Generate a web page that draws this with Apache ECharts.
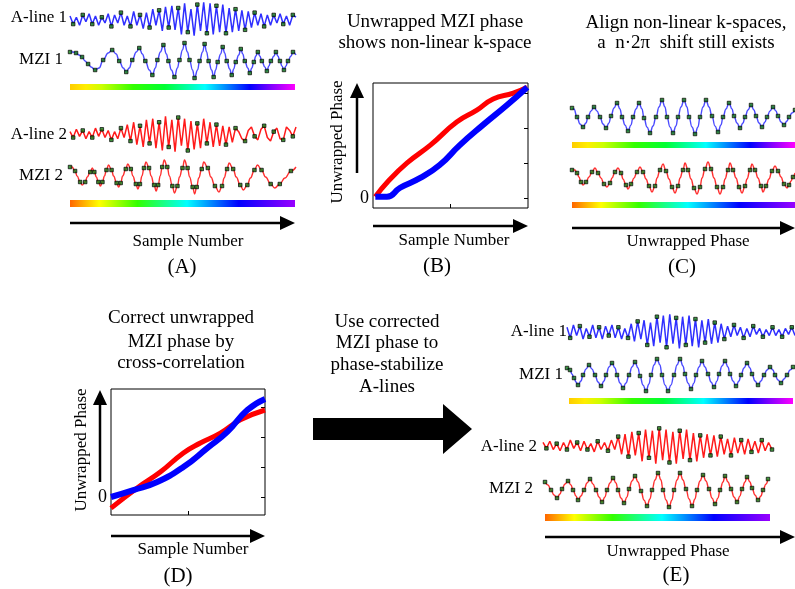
<!DOCTYPE html>
<html><head><meta charset="utf-8">
<script src="https://cdn.jsdelivr.net/npm/echarts@6/dist/echarts.min.js"></script>
<style>html,body{margin:0;padding:0;background:#fff}#c{width:795px;height:589px}</style>
</head><body><div id="c"></div>
<script>
// ---------- DATA ----------
// A-line samples (uniformly spaced sample index, amplitude)
const aline1A = [3,-4,2,-5,4,-2,5,-4,3,-5,2,-3,5,-6,4,-3,6,-5,3,-6,
  7,-5,4,-8,6,-7,9,-5,8,-10,11,-7,12,-9,10,-13,14,-11,9,-14,
  13,-10,15,-12,14,-13,12,-11,13,-12,10,-11,9,-10,8,-9,7,-7,6,-5,
  5,-6,4,-5,4,-3,5,-4,3,-5,4,2];
const aline2A = [2,-3,4,-2,3,-4,2,-3,5,-2,4,-3,3,-5,2,-4,5,-3,
  8,-6,10,-9,7,-11,12,-8,13,-12,10,-14,15,-11,12,-15,14,-10,13,-14,11,-13,9,-12,13,-8,10,-11,8,-10,7,-9,6,-7,
  5,2,-4,-6,3,6,-2,-5,4,7,-3,-6,2,5,-4,-5,6,3,-2,6];
const aline1E = [4,-5,6,-3,5,-6,3,-4,6,-5,4,-6,5,-3,6,-5,4,-6,3,-5,
  7,-8,9,-6,10,-11,8,-12,13,-9,14,-13,15,-10,12,-14,13,-11,14,-12,11,-13,10,-9,11,-10,8,-9,7,
  -6,5,-4,6,-3,4,-5,3,-4,5,-2,3,-4,2,-3,4,-3,2,-4,3,-2,4,-3];
const aline2E = [3,-2,4,-3,2,-4,3,-3,5,-2,3,-4,4,-3,2,-5,4,-3,3,-4,5,-3,
  8,-7,10,-9,12,-8,11,-13,14,-10,13,-15,15,-12,14,-14,12,-15,13,-11,14,-12,11,-13,
  9,-10,10,-8,9,-9,8,-7,6,-8,7,-6,5,-7,6,-5,4,-6,5,-4,3,-3];

// MZI samples [sample position, amplitude]
const mzi1A = [[0,10],[3,10],[6,9],[9,7],[12,5],[15,1],[18,-2],[21,-5],[25,-8],[29,-6],[33,2],[38,9],[42,12],[46,8],[49,1],[53,-6],[56,-10],[59,-6],[62,2],[66,10],[69,14],[72,8],[75,1],[79,-8],[82,-13],[85,-6],[87,2],[90,10],[93,17],[96,8],[98,1],[101,-8],[104,-15],[107,-6],[109,2],[112,12],[114,19],[117,10],[119,2],[122,-8],[124,-16],[127,-8],[129,1],[132,10],[134,18],[136,10],[138,1],[141,-8],[143,-15],[145,-8],[147,0],[150,8],[152,15],[154,9],[156,1],[159,-7],[161,-13],[163,-7],[165,0],[168,7],[170,13],[172,8],[174,1],[177,-6],[179,-11],[181,-6],[183,0],[185,6],[187,10],[189,6],[191,1],[194,-5],[196,-9],[198,-4],[200,1],[203,6],[205,10],[207,6],[209,1],[211,-4],[213,-8],[215,-4],[217,1],[220,6],[222,10],[225,7]];
const mzi2A = [[0,11],[2,11],[5,7],[7,2],[10,-4],[12,-7],[15,-4],[17,1],[20,6],[22,10],[24,6],[26,1],[28,-4],[30,-8],[32,-4],[34,2],[36,8],[38,13],[41,8],[43,2],[46,-5],[48,-9],[50,-5],[52,2],[55,9],[57,14],[60,9],[62,2],[65,-6],[67,-11],[69,-6],[71,2],[73,10],[75,16],[78,10],[80,2],[83,-7],[85,-13],[87,-7],[89,2],[91,11],[93,18],[96,11],[98,2],[101,-8],[103,-15],[106,-8],[108,1],[111,10],[113,18],[116,10],[118,1],[121,-9],[123,-16],[125,-9],[127,0],[130,9],[132,16],[136,10],[139,1],[143,-8],[147,-14],[150,-8],[152,0],[155,9],[157,15],[161,9],[164,1],[168,-7],[171,-12],[175,-7],[178,0],[182,8],[185,13],[189,8],[193,1],[198,-6],[202,-10],[207,-6],[212,0],[218,7],[223,11]];
const mzi1C = [[0,9],[2,8],[5,0],[8,-7],[11,-10],[14,-6],[16,0],[19,6],[22,10],[25,6],[28,0],[31,-7],[34,-11],[37,-6],[39,1],[42,9],[45,14],[48,8],[50,0],[53,-8],[56,-14],[59,-8],[61,0],[64,8],[67,14],[70,8],[72,-1],[75,-10],[78,-16],[81,-9],[84,0],[87,10],[90,17],[93,10],[95,0],[98,-10],[101,-16],[104,-9],[106,0],[109,10],[112,17],[115,10],[117,0],[120,-10],[123,-17],[126,-10],[128,0],[131,10],[134,17],[137,10],[140,1],[143,-9],[146,-15],[149,-8],[151,0],[154,8],[157,14],[160,8],[162,1],[165,-6],[168,-11],[171,-6],[173,0],[176,7],[179,12],[182,7],[184,1],[187,-6],[190,-10],[193,-5],[195,0],[198,6],[201,10],[204,6],[206,1],[209,-5],[212,-8],[215,-4],[217,0],[220,4],[223,7]];
const mzi2C = [[0,9],[3,9],[5,6],[7,2],[9,-3],[11,-6],[14,-3],[17,2],[20,7],[23,11],[26,6],[29,1],[32,-5],[35,-8],[38,-4],[40,1],[43,7],[46,11],[49,6],[51,0],[54,-6],[56,-10],[59,-5],[62,1],[65,7],[68,12],[71,7],[74,0],[77,-7],[80,-13],[83,-7],[85,1],[88,9],[91,15],[94,8],[97,0],[100,-8],[103,-14],[106,-7],[108,1],[111,9],[113,16],[116,9],[119,0],[122,-9],[125,-15],[128,-8],[130,1],[133,10],[136,17],[139,10],[142,1],[145,-8],[148,-15],[151,-8],[153,0],[156,9],[158,16],[161,9],[164,1],[167,-8],[170,-14],[173,-7],[175,0],[178,9],[180,15],[183,9],[186,1],[189,-7],[191,-13],[194,-7],[197,0],[200,8],[203,13],[206,8],[209,2],[212,-5],[215,-9],[217,-6],[219,-2],[221,2],[223,6]];
const mzi1E = [[0,7],[2,6],[3,5],[5,1],[7,-3],[9,-7],[11,-10],[14,-6],[16,0],[19,6],[22,10],[25,6],[28,0],[31,-7],[34,-11],[37,-6],[39,0],[42,8],[45,12],[48,7],[50,0],[53,-8],[56,-13],[59,-8],[62,0],[65,8],[68,13],[71,7],[73,-1],[76,-10],[79,-16],[82,-9],[84,0],[87,10],[90,16],[93,10],[95,0],[98,-10],[101,-16],[104,-10],[107,0],[110,10],[113,16],[116,9],[118,1],[121,-8],[124,-14],[127,-8],[129,0],[132,8],[135,14],[138,8],[141,1],[144,-7],[147,-12],[150,-6],[152,1],[155,9],[158,14],[161,8],[163,1],[166,-6],[169,-11],[172,-6],[174,0],[177,7],[180,12],[183,7],[185,1],[188,-6],[191,-10],[194,-6],[197,0],[200,5],[203,8],[206,5],[208,0],[211,-5],[214,-8],[217,-4],[220,0],[223,5],[226,8]];
const mzi2E = [[0,8],[3,5],[6,0],[9,-5],[12,-8],[15,-4],[17,1],[20,6],[23,9],[26,5],[28,0],[31,-6],[33,-10],[36,-6],[39,0],[42,7],[45,11],[48,6],[51,0],[54,-7],[57,-12],[60,-7],[62,0],[65,7],[68,12],[71,7],[73,0],[76,-8],[79,-13],[82,-7],[84,1],[87,9],[90,14],[93,8],[96,-1],[99,-10],[102,-16],[105,-9],[107,0],[110,10],[113,17],[116,10],[118,0],[121,-10],[124,-17],[127,-10],[129,0],[132,10],[135,17],[138,10],[141,1],[144,-9],[147,-16],[150,-9],[152,0],[155,9],[158,15],[161,9],[164,1],[167,-8],[170,-14],[173,-8],[175,0],[178,8],[180,14],[183,8],[186,1],[189,-7],[192,-12],[195,-6],[197,1],[200,8],[202,13],[205,8],[207,2],[210,-5],[213,-10],[216,-6],[218,0],[221,6],[223,11]];

// Unwrapped phase curves [sample number, phase]
const phaseRedB = [[0.03,0.03],[0.19,0.46],[0.44,1.0],[0.74,1.51],[1.08,2.17],[1.34,2.51],[1.55,2.83],[1.81,3.0],[1.99,3.17]];
const phaseBlueB = [[0.03,0.03],[0.18,0.03],[0.35,0.29],[0.61,0.57],[0.86,0.94],[1.12,1.51],[1.42,2.09],[1.73,2.66],[1.99,3.17]];
const phaseRedD = [[0,-0.37],[0.34,0.3],[0.64,0.83],[0.94,1.47],[1.16,1.8],[1.42,2.13],[1.68,2.57],[2.0,2.9]];
const phaseBlueD = [[0,0],[0.29,0.23],[0.6,0.5],[0.94,1.0],[1.25,1.63],[1.51,2.17],[1.77,2.9],[2.0,3.27]];
const phaseTicks = [0,1,2,3];
const sampleTicks = [1];
const zeroLabel = [0];

// ---------- BUILD ----------
const FONT = '"Liberation Serif", serif';
const grids = [], xAxes = [], yAxes = [], series = [];
function addGrid(g, xa, ya) {
  grids.push(Object.assign({ containLabel: false }, g));
  const gi = grids.length - 1;
  xAxes.push(Object.assign({ gridIndex: gi }, xa));
  yAxes.push(Object.assign({ gridIndex: gi }, ya));
  return { gi, xi: xAxes.length - 1, yi: yAxes.length - 1 };
}
const dotStyle = { color: '#138013', borderColor: '#000', borderWidth: 0.9 };
function mziWave(data, left, top, width, color) {
  const xmax = data[data.length - 1][0];
  const a = addGrid({ left, top, width, height: 40 },
    { type: 'value', min: 0, max: xmax, show: false },
    { type: 'value', min: -20, max: 20, show: false });
  series.push({ type: 'line', xAxisIndex: a.xi, yAxisIndex: a.yi, data, smooth: 0.45, smoothMonotone: 'x', clip: false,
    lineStyle: { color, width: 1.4 }, symbol: 'none', z: 3 });
  series.push({ type: 'scatter', xAxisIndex: a.xi, yAxisIndex: a.yi, data: data.filter((p, k) => k % 2 === 0), clip: false,
    symbol: 'rect', symbolSize: 3.5, itemStyle: dotStyle, z: 4 });
}
function alineWave(vals, left, top, width, color) {
  const a = addGrid({ left, top, width, height: 40 },
    { type: 'value', min: 0, max: vals.length - 1, show: false },
    { type: 'value', min: -17, max: 17, show: false });
  const pts = vals.map((v, k) => [k, v]);
  series.push({ type: 'line', xAxisIndex: a.xi, yAxisIndex: a.yi, data: pts, clip: false,
    lineStyle: { color, width: 1.5 }, symbol: 'none', z: 3 });
  series.push({ type: 'scatter', xAxisIndex: a.xi, yAxisIndex: a.yi, data: pts.filter((p, k) => k % 3 === 1), clip: false,
    symbol: 'rect', symbolSize: 3.5, itemStyle: dotStyle, z: 4 });
}
function phasePlot(left, top, width, height, ymin, ymax, red, blue) {
  const a = addGrid({ left, top, width, height, show: true, borderColor: '#000', borderWidth: 1 },
    { type: 'value', min: 0, max: 2, position: 'bottom', axisLine: { show: false, onZero: false }, splitLine: { show: false },
      axisTick: { show: true, inside: true, length: 4, customValues: sampleTicks, lineStyle: { color: '#000' } },
      axisLabel: { show: false } },
    { type: 'value', min: ymin, max: ymax, position: 'right', axisLine: { show: false, onZero: false }, splitLine: { show: false },
      axisTick: { show: true, inside: true, length: 4, customValues: phaseTicks, lineStyle: { color: '#000' } },
      axisLabel: { show: false } });
  yAxes.push({ gridIndex: a.gi, type: 'value', min: ymin, max: ymax, position: 'left',
    axisLine: { show: false, onZero: false }, splitLine: { show: false }, axisTick: { show: false },
    axisLabel: { show: true, customValues: zeroLabel, margin: 4, color: '#000', fontSize: 18, fontFamily: FONT } });
  series.push({ type: 'line', xAxisIndex: a.xi, yAxisIndex: a.yi, data: red, smooth: true, symbol: 'none', clip: false,
    lineStyle: { color: '#ff0000', width: 5 }, z: 3 });
  series.push({ type: 'line', xAxisIndex: a.xi, yAxisIndex: a.yi, data: blue, smooth: true, symbol: 'none', clip: false,
    lineStyle: { color: '#0000ff', width: 6 }, z: 4 });
}

// Panel A
alineWave(aline1A, 70, -1, 226, '#2f2fff');
mziWave(mzi1A, 70, 42, 226, '#4a4aff');
alineWave(aline2A, 70, 114, 226, '#ff1a1a');
mziWave(mzi2A, 70, 158, 226, '#ff3030');
// Panel B
phasePlot(373, 83, 155, 125, -0.29, 3.29, phaseRedB, phaseBlueB);
// Panel C
mziWave(mzi1C, 572, 97, 223, '#4a4aff');
mziWave(mzi2C, 572, 159, 223, '#ff3030');
// Panel D
phasePlot(111, 389, 154, 126, -0.6, 3.6, phaseRedD, phaseBlueD);
// Panel E
alineWave(aline1E, 567, 312, 228, '#2f2fff');
mziWave(mzi1E, 567, 355, 226, '#4a4aff');
alineWave(aline2E, 543, 426, 229, '#ff1a1a');
mziWave(mzi2E, 545, 470, 223, '#ff3030');

// ---------- GRAPHICS (text, arrows, colour bars) ----------
const G = [];
function T(text, x, y, o) {
  o = o || {};
  G.push({ type: 'text', x, y, rotation: o.rot || 0, z: 10,
    style: { text, fill: '#000', font: (o.size || 17) + 'px ' + FONT,
      textAlign: o.align || 'center', textVerticalAlign: 'middle', verticalAlign: 'middle' } });
}
function arrowH(x1, x2, y) {
  G.push({ type: 'line', shape: { x1, y1: y, x2: x2 - 12, y2: y }, style: { stroke: '#000', lineWidth: 2.5 } });
  G.push({ type: 'polygon', shape: { points: [[x2 - 15, y - 7], [x2, y], [x2 - 15, y + 7]] }, style: { fill: '#000' } });
}
function arrowUp(x, y1, y2) {
  G.push({ type: 'line', shape: { x1: x, y1, x2: x, y2: y2 + 12 }, style: { stroke: '#000', lineWidth: 2.5 } });
  G.push({ type: 'polygon', shape: { points: [[x - 7, y2 + 15], [x, y2], [x + 7, y2 + 15]] }, style: { fill: '#000' } });
}
const rainbow1 = [[0,'#ffcc00'],[0.07,'#ffee00'],[0.14,'#ccff00'],[0.28,'#33ff00'],[0.42,'#00ff33'],[0.6,'#00ffff'],[0.72,'#0066ff'],[0.8,'#0000ff'],[0.9,'#8800ff'],[1,'#ff00ff']];
const rainbow2 = [[0,'#ff6600'],[0.13,'#ffff00'],[0.3,'#33ff00'],[0.52,'#00ffff'],[0.75,'#0000ff'],[1,'#9900ff']];
function bar(x, y, w, h, stops) {
  G.push({ type: 'rect', shape: { x, y, width: w, height: h },
    style: { fill: { type: 'linear', x: 0, y: 0, x2: 1, y2: 0, colorStops: stops.map(s => ({ offset: s[0], color: s[1] })) } } });
}
const TS = 19; // title size

// A
T('A-line 1', 67, 18, { align: 'right' });
T('MZI 1', 63, 60, { align: 'right' });
T('A-line 2', 67, 135, { align: 'right' });
T('MZI 2', 63, 176, { align: 'right' });
bar(70, 84, 225, 6, rainbow1);
bar(70, 200, 225, 7, rainbow2);
arrowH(70, 295, 223);
T('Sample Number', 188, 242);
T('(A)', 182, 267, { size: 21 });
// B
T('Unwrapped MZI phase', 435, 22, { size: TS });
T('shows non-linear k-space', 435, 43, { size: TS });
T('Unwrapped Phase', 338, 142, { rot: Math.PI / 2 });
arrowUp(357, 173, 83);
arrowH(373, 528, 226);
T('Sample Number', 454, 241);
T('(B)', 437, 266, { size: 21 });
// C
T('Align non-linear k-spaces,', 686, 23, { size: TS });
T('a  n\u00b72\u03c0  shift still exists', 686, 43, { size: TS });
bar(572, 142, 223, 6, rainbow1);
bar(572, 202, 223, 6, rainbow2);
arrowH(572, 795, 228);
T('Unwrapped Phase', 688, 242);
T('(C)', 682, 267, { size: 21 });
// D
T('Correct unwrapped', 181, 318, { size: TS });
T('MZI phase by', 181, 342, { size: TS });
T('cross-correlation', 181, 363, { size: TS });
T('Unwrapped Phase', 82, 450, { rot: Math.PI / 2 });
arrowUp(100, 482, 390);
arrowH(111, 265, 536);
T('Sample Number', 193, 550);
T('(D)', 178, 576, { size: 21 });
// middle
T('Use corrected', 387, 322, { size: TS });
T('MZI phase to', 387, 343, { size: TS });
T('phase-stabilize', 387, 365, { size: TS });
T('A-lines', 387, 387, { size: TS });
G.push({ type: 'polygon', shape: { points: [[313,418],[443,418],[443,404],[472,429],[443,454],[443,440],[313,440]] }, style: { fill: '#000' } });
// E
T('A-line 1', 567, 332, { align: 'right' });
T('MZI 1', 563, 375, { align: 'right' });
T('A-line 2', 537, 447, { align: 'right' });
T('MZI 2', 533, 489, { align: 'right' });
bar(569, 398, 224, 6, rainbow1);
bar(545, 514, 225, 7, rainbow2);
arrowH(545, 795, 537);
T('Unwrapped Phase', 668, 552);
T('(E)', 676, 575, { size: 21 });

const chart = echarts.init(document.getElementById('c'), null, { renderer: 'canvas' });
chart.setOption({
  animation: false,
  backgroundColor: '#fff',
  grid: grids, xAxis: xAxes, yAxis: yAxes, series,
  graphic: { elements: G }
});
</script></body></html>
